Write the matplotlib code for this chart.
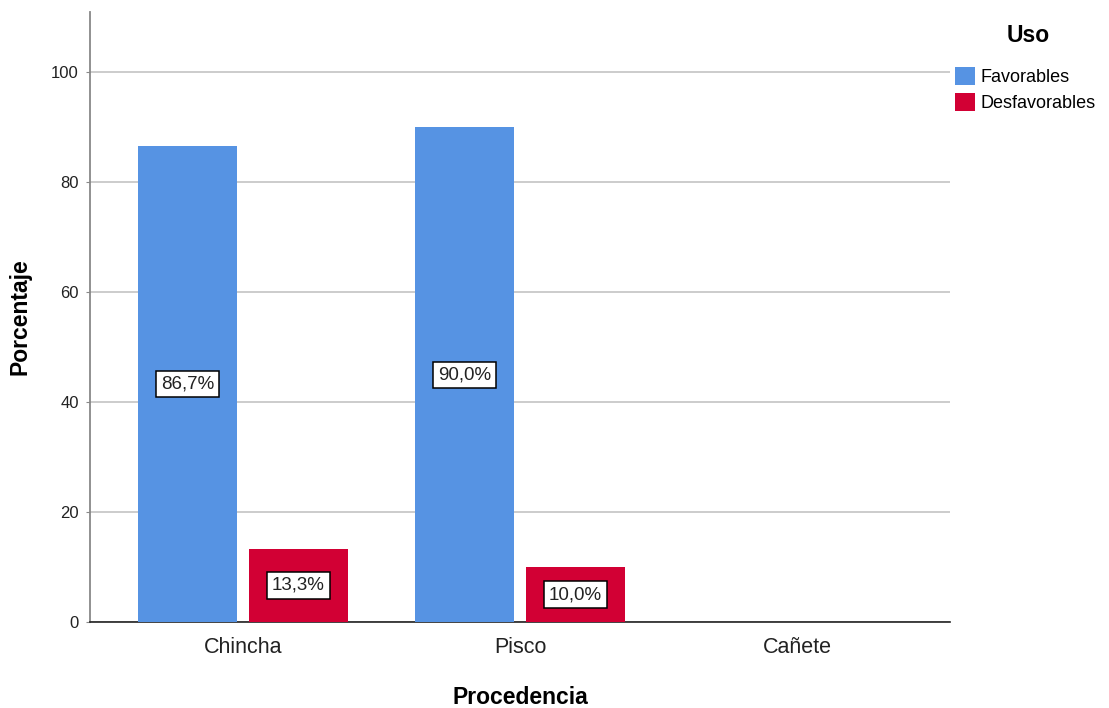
import numpy as np
import matplotlib.pyplot as plt

plt.rcParams['font.family'] = ['Liberation Sans', 'DejaVu Sans']

# data
categorias = ['Chincha', 'Pisco', 'Cañete']
favorables = [86.7, 90.0, 0.0]
desfavorables = [13.3, 10.0, 0.0]
series = ['Favorables', 'Desfavorables']
colores = ['#5693E3', '#D20034']

fig = plt.figure(figsize=(11.09, 7.08), dpi=100)
ax = fig.add_axes([0.0812, 0.1215, 0.7754, 0.8615])

x = np.arange(len(categorias))
w = 0.357
off = 0.2
handles = []
for vals, d, color, name in zip([favorables, desfavorables], [-off, off], colores, series):
    bars = ax.bar(x + d, vals, width=w, color=color, label=name, zorder=3)
    handles.append(bars)
    for xi, v in zip(x + d, vals):
        if v <= 0:
            continue
        ax.text(xi, v / 2, ('%.1f%%' % v).replace('.', ','), ha='center', va='center',
                fontsize=13.5, color='#222222', zorder=4,
                bbox=dict(boxstyle='square,pad=0.25', fc='white', ec='black', lw=1.1))

ax.set_xlim(-0.552, 2.552)
ax.set_ylim(0, 111)
ax.set_yticks([0, 20, 40, 60, 80, 100])
ax.yaxis.grid(True, color='#c8c8c8', lw=1.3, zorder=0)
ax.set_xticks(x)
ax.set_xticklabels(categorias, fontsize=15.5, color='#222222')
ax.tick_params(axis='y', labelsize=12, colors='#222222', length=3, color='#888888', pad=5)
ax.tick_params(axis='x', length=0, pad=11)

for s in ['top', 'right']:
    ax.spines[s].set_visible(False)
ax.spines['left'].set_color('#888888')
ax.spines['left'].set_linewidth(1.3)
ax.spines['bottom'].set_color('#222222')
ax.spines['bottom'].set_linewidth(1.2)

ax.set_xlabel('Procedencia', fontsize=16.5, fontweight='bold', labelpad=20)
ax.set_ylabel('Porcentaje', fontsize=16.5, fontweight='bold', labelpad=14)

leg = fig.legend(handles=handles, labels=series, loc='upper left',
                 bbox_to_anchor=(0.855, 0.915), frameon=False, fontsize=13,
                 handlelength=1.1, handleheight=1.1, handletextpad=0.3,
                 labelspacing=0.4, borderaxespad=0)
fig.text(0.927, 0.95, 'Uso', fontsize=16.5, fontweight='bold', ha='center', va='center')

fig.savefig('out.png', dpi=100)
